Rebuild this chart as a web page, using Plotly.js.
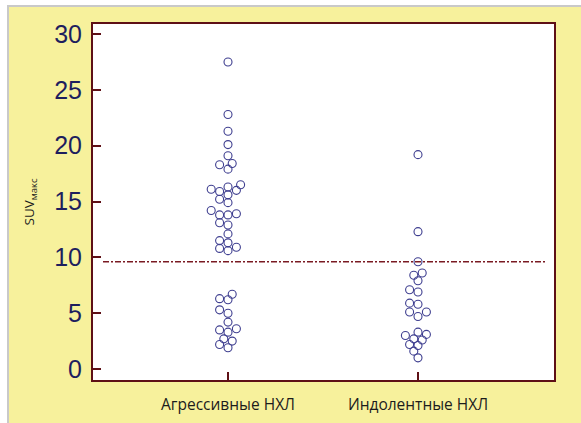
<!DOCTYPE html>
<html><head><meta charset="utf-8">
<script src="https://cdn.plot.ly/plotly-3.0.1.min.js"></script>
<style>
html,body{margin:0;padding:0;background:#ffffff;width:581px;height:423px;overflow:hidden}
#frame{position:absolute;left:7px;top:5px;width:574px;height:418px;border-left:2px solid #c9c9c9;border-top:2px solid #c9c9c9;}
#chart{width:572px;height:416px}
</style></head><body>
<div id="frame"><div id="chart"></div></div>
<script>
// ---- data ----
const groups = ['Агрессивные НХЛ', 'Индолентные НХЛ'];
const aggressive = [27.5, 22.8, 21.3, 20.1, 19.1, 18.4, 18.3, 17.9,
  16.5, 16.3, 16.1, 16.0, 15.9, 15.6, 15.2, 14.9, 14.2, 13.9, 13.8, 13.8,
  13.1, 12.9, 12.1, 11.5, 11.3, 10.9, 10.8, 10.6,
  6.7, 6.3, 6.2, 5.3, 5.0, 4.2, 3.6, 3.5, 3.3, 2.7, 2.5, 2.2, 1.9];
const indolent = [19.2, 12.3, 9.6, 8.6, 8.4, 7.9, 7.1, 6.9, 5.9, 5.8,
  5.1, 5.1, 4.7, 3.3, 3.1, 3.0, 2.7, 2.6, 2.2, 2.1, 1.6, 1.0];
const cutoff = 9.6;
const yTickVals = [0, 5, 10, 15, 20, 25, 30];
const yTitle = 'SUV<sub>макс</sub>';

// ---- layout constants ----
const W = 572, H = 416;
const M = {l: 84, r: 27, t: 17, b: 43};
const xRange = [-0.7105, 1.7158];
const yRange = [-0.985, 30.9];
const ppuX = (W - M.l - M.r) / (xRange[1] - xRange[0]);
const ppuY = (H - M.t - M.b) / (yRange[1] - yRange[0]);
const STEP = 4.2, D = 6.9;

function swarm(values, center) {
  const order = values.map((v, i) => i).sort((a, b) => values[a] - values[b]);
  const placed = [];
  const xs = new Array(values.length);
  for (const i of order) {
    const py = values[i] * ppuY;
    let off = 0;
    for (let n = 0; n < 60; n++) {
      const k = Math.ceil(n / 2);
      const cand = (n % 2 ? -k : k) * STEP;
      if (placed.every(p => Math.hypot(p.x - cand, p.y - py) >= D)) { off = cand; break; }
    }
    placed.push({x: off, y: py});
    xs[i] = center + off / ppuX;
  }
  return xs;
}

const markerStyle = {symbol: 'circle-open', size: 8, color: '#3f3f90', line: {width: 1.1, color: '#3f3f90'}};
const traces = [
  {type: 'scatter', mode: 'markers', x: swarm(aggressive, 0), y: aggressive, marker: markerStyle, hoverinfo: 'y'},
  {type: 'scatter', mode: 'markers', x: swarm(indolent, 1), y: indolent, marker: markerStyle, hoverinfo: 'y'}
];

const maroon = '#5e1016';
const layout = {
  width: W, height: H,
  margin: M,
  paper_bgcolor: '#f7f19c',
  plot_bgcolor: '#ffffff',
  showlegend: false,
  font: {family: 'Liberation Sans, Arial, sans-serif'},
  xaxis: {
    range: xRange, tickvals: [0, 1], ticktext: groups,
    showgrid: false, zeroline: false,
    showline: true, mirror: true, linecolor: maroon, linewidth: 2,
    ticks: 'inside', ticklen: 8, tickwidth: 2, tickcolor: maroon,
    tickfont: {family: 'Open Sans, Noto Sans, sans-serif', size: 15.5, color: '#1c1c1c'},
    ticklabelstandoff: 9
  },
  yaxis: {
    range: yRange, tickvals: yTickVals,
    showgrid: false, zeroline: false,
    showline: true, mirror: true, linecolor: maroon, linewidth: 2,
    ticks: 'inside', ticklen: 8, tickwidth: 2, tickcolor: maroon,
    tickfont: {family: 'Liberation Sans, Arial, sans-serif', size: 25, color: '#1e1e5e'},
    ticklabelstandoff: 4,
    title: {text: yTitle, standoff: 16, font: {family: 'Open Sans, Noto Sans, sans-serif', size: 13.5, color: '#1c1c1c'}}
  },
  shapes: [{
    type: 'line', xref: 'paper', yref: 'y',
    x0: 10 / (W - M.l - M.r), x1: 1 - 9 / (W - M.l - M.r), y0: cutoff, y1: cutoff,
    line: {color: '#7a1a22', width: 1.5, dash: '6px,2px,2px,2px'}
  }]
};

Plotly.newPlot('chart', traces, layout, {displayModeBar: false, staticPlot: true});
</script>
</body></html>
